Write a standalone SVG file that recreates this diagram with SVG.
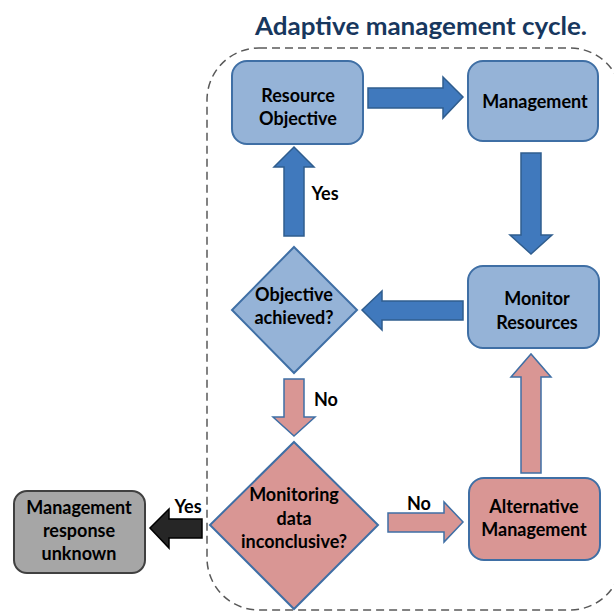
<svg xmlns="http://www.w3.org/2000/svg" width="614" height="612" viewBox="0 0 614 612">
<style>
.t{font-family:Lato,"Liberation Sans",sans-serif;font-weight:bold;font-size:18px;fill:#000;text-anchor:middle;dominant-baseline:central}
.box{fill:#95B3D7;stroke:#3F6FA5;stroke-width:2}
.pink{fill:#D99694;stroke:#3F6FA5;stroke-width:2}
.barr{fill:#4079BD;stroke:#2F5D8E;stroke-width:1.5}
.parr{fill:#D99694;stroke:#3F6FA5;stroke-width:1.5}
</style>
<rect width="614" height="612" fill="#fff"/>
<text x="421" y="25" style="font-family:Lato,'Liberation Sans',sans-serif;font-weight:bold;font-size:24px;fill:#17375E;text-anchor:middle;dominant-baseline:central" textLength="332" lengthAdjust="spacingAndGlyphs">Adaptive management cycle.</text>
<rect x="207" y="48" width="415" height="562" rx="52" fill="none" stroke="#595959" stroke-width="1.5" stroke-dasharray="8,5"/>
<g id="connectors">
<polygon class="barr" points="368,88 443,88 443,77 463,97 443,118 443,108 368,108"/>
<polygon class="barr" points="521,153 541,153 541,235 552,235 531,254 510,235 521,235"/>
<polygon class="barr" points="463,301 382,301 382,291 362,310 382,330 382,320 463,320"/>
<polygon class="barr" points="284,236 284,167 274,167 294,147 314,167 304,167 304,236"/>
<polygon class="parr" points="284,379 304,379 304,417 315,417 294,436 273,417 284,417"/>
<polygon class="parr" points="388,513 444,513 444,502 463,522 444,542 444,532 388,532"/>
<polygon class="parr" points="521,473 521,377 511,377 531,354 551,377 541,377 541,473"/>
<polygon fill="#262626" stroke="#000" stroke-width="1.5" points="202,519 169,519 169,509 150,528 169,548 169,538 202,538"/>
<text class="t" x="325" y="193">Yes</text>
<text class="t" x="326" y="399">No</text>
<text class="t" x="419" y="503">No</text>
<text class="t" x="188" y="506">Yes</text>
</g>
<g id="resource-objective">
<rect class="box" x="232" y="61" width="131" height="83" rx="15"/>
<text class="t" x="298" y="95">Resource</text>
<text class="t" x="298" y="118">Objective</text>
</g>
<g id="management">
<rect class="box" x="468" y="61" width="130" height="80" rx="15"/>
<text class="t" x="535" y="101">Management</text>
</g>
<g id="monitor-resources">
<rect class="box" x="468" y="266" width="131" height="82" rx="15"/>
<text class="t" x="537" y="298">Monitor</text>
<text class="t" x="537" y="322">Resources</text>
</g>
<g id="objective-achieved">
<polygon class="box" points="294,247 357,310 294,373 232,310"/>
<text class="t" x="294" y="294">Objective</text>
<text class="t" x="294" y="317">achieved?</text>
</g>
<g id="monitoring-inconclusive">
<polygon class="pink" points="294,442 378,525 294,609 210,525"/>
<text class="t" x="294" y="494">Monitoring</text>
<text class="t" x="294" y="518">data</text>
<text class="t" x="294" y="541">inconclusive?</text>
</g>
<g id="alternative-management">
<rect class="pink" x="469" y="478" width="131" height="82" rx="15"/>
<text class="t" x="534" y="506">Alternative</text>
<text class="t" x="534" y="529">Management</text>
</g>
<g id="management-response-unknown">
<rect x="14" y="491" width="131" height="82" rx="13" fill="#A6A6A6" stroke="#404040" stroke-width="2"/>
<text class="t" x="79" y="507">Management</text>
<text class="t" x="79" y="530">response</text>
<text class="t" x="79" y="553">unknown</text>
</g>
</svg>
